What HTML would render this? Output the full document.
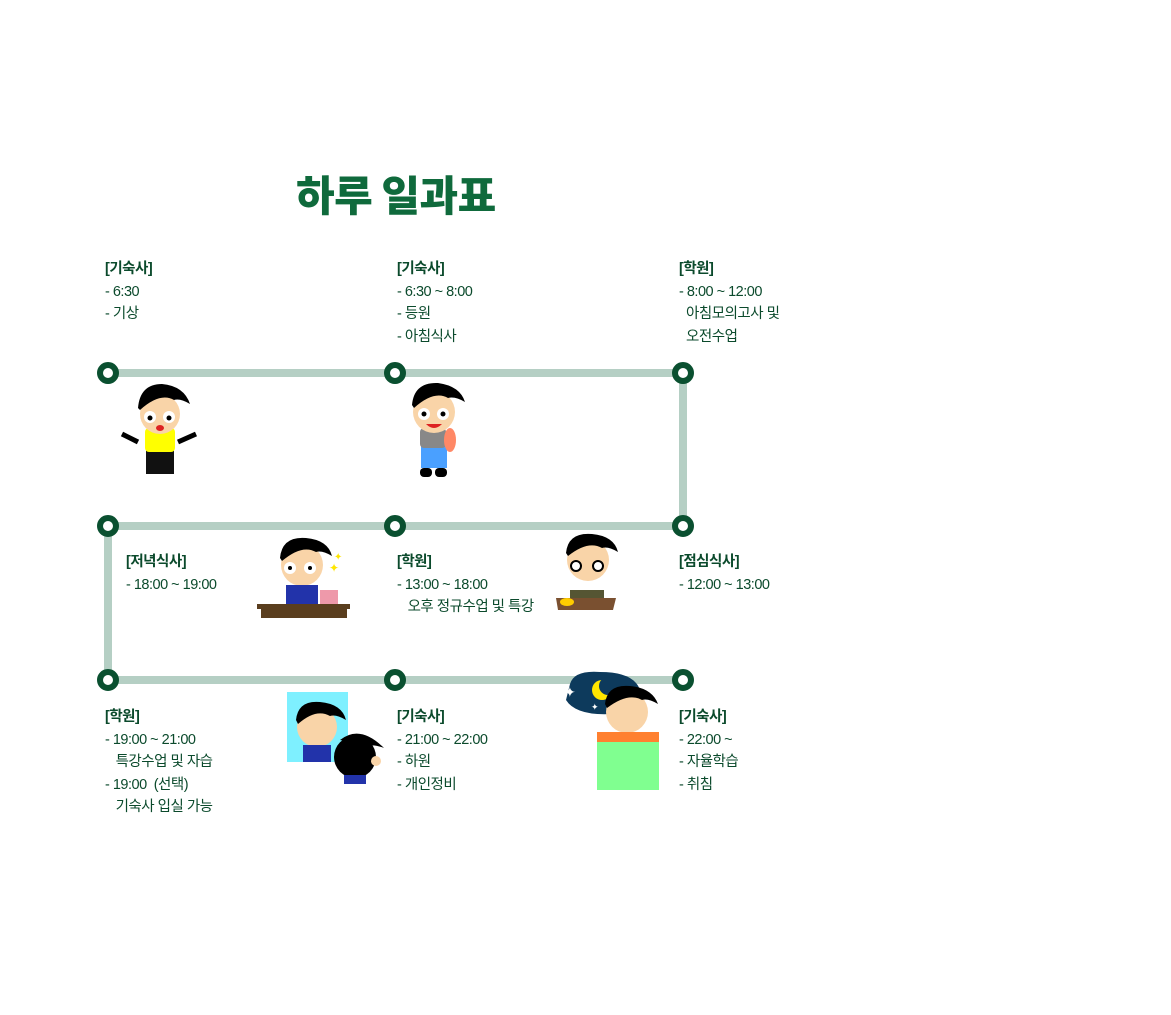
<!DOCTYPE html>
<html><head><meta charset="utf-8"><style>
body{margin:0;width:1171px;height:1015px;background:#fff;position:relative;overflow:hidden;font-family:"Liberation Sans","Noto Sans CJK KR",sans-serif;}
.t{position:absolute;color:#0b4a2c;font-size:14.5px;line-height:22.5px;letter-spacing:-0.5px;white-space:pre;}
.t b{font-weight:700;}
h1{position:absolute;left:296px;top:163px;margin:0;font-size:42px;font-weight:900;color:#0f6a3c;letter-spacing:-0.5px;font-family:"Noto Sans CJK KR",sans-serif;white-space:nowrap;}
svg{position:absolute;left:0;top:0;}
</style></head><body>
<h1>하루 일과표</h1>
<svg width="1171" height="1015">
<g stroke="#b5cfc4" stroke-width="8" fill="none">
<path d="M108 373H683V526H108V680H683"/>
</g>
<g fill="#fff" stroke="#0a5030" stroke-width="6">
<circle cx="108" cy="373" r="8"/><circle cx="395" cy="373" r="8"/><circle cx="683" cy="373" r="8"/>
<circle cx="108" cy="526" r="8"/><circle cx="395" cy="526" r="8"/><circle cx="683" cy="526" r="8"/>
<circle cx="108" cy="680" r="8"/><circle cx="395" cy="680" r="8"/><circle cx="683" cy="680" r="8"/>
</g>
<g>
<rect x="146" y="448" width="28" height="26" fill="#111"/>
<rect x="145" y="428" width="30" height="24" rx="4" fill="#ffff00"/>
<path d="M122 434L138 442M178 442L196 434" stroke="#000" stroke-width="5"/>
<circle cx="160" cy="414" r="20" fill="#f9d4a8"/>
<path d="M138 408Q140 384 162 384Q184 386 190 404Q180 398 174 400Q160 392 140 410Z" fill="#000"/>
<circle cx="150" cy="417" r="6" fill="#fff"/><circle cx="169" cy="417" r="6" fill="#fff"/>
<circle cx="150" cy="418" r="2.5"/><circle cx="169" cy="418" r="2.5"/>
<ellipse cx="160" cy="428" rx="4" ry="3" fill="#d22"/>
</g>
<g>
<rect x="421" y="444" width="26" height="24" fill="#4aa0ff"/>
<rect x="420" y="428" width="26" height="20" rx="4" fill="#888"/>
<ellipse cx="450" cy="440" rx="6" ry="12" fill="#f86"/>
<rect x="420" y="468" width="12" height="9" rx="4" fill="#000"/><rect x="435" y="468" width="12" height="9" rx="4" fill="#000"/>
<circle cx="434" cy="412" r="21" fill="#f9d4a8"/>
<path d="M412 405Q414 382 438 383Q460 386 465 402Q455 396 448 398Q434 390 414 408Z" fill="#000"/>
<circle cx="424" cy="414" r="6" fill="#fff"/><circle cx="443" cy="414" r="6" fill="#fff"/>
<circle cx="424" cy="414" r="2.5"/><circle cx="443" cy="414" r="2.5"/>
<path d="M426 424Q434 432 442 424Z" fill="#d22"/>
</g>
<g>
<circle cx="302" cy="565" r="21" fill="#f9d4a8"/>
<path d="M280 558Q282 536 306 538Q328 540 332 556Q322 550 316 552Q302 544 282 561Z" fill="#000"/>
<circle cx="290" cy="568" r="6" fill="#fff"/><circle cx="310" cy="568" r="6" fill="#fff"/>
<circle cx="290" cy="568" r="2"/><circle cx="310" cy="568" r="2"/>
<rect x="286" y="585" width="32" height="20" fill="#2233aa"/>
<rect x="320" y="590" width="18" height="14" fill="#e9a"/>
<rect x="257" y="604" width="93" height="5" fill="#5a3e1e"/><rect x="261" y="609" width="86" height="9" fill="#5a3e1e"/>
<text x="334" y="560" fill="#ffe600" font-size="10">✦</text><text x="329" y="572" fill="#ffe600" font-size="12">✦</text>
</g>
<g>
<circle cx="588" cy="560" r="21" fill="#f9d4a8"/>
<path d="M566 553Q568 532 592 534Q614 536 618 552Q608 546 602 548Q588 540 568 556Z" fill="#000"/>
<circle cx="576" cy="566" r="5" fill="#fff" stroke="#000" stroke-width="2"/><circle cx="598" cy="566" r="5" fill="#fff" stroke="#000" stroke-width="2"/>
<rect x="572" y="582" width="32" height="14" fill="#fff"/>
<rect x="570" y="590" width="34" height="8" fill="#553"/>
<path d="M556 598H616L613 610H558Z" fill="#7a5030"/>
<ellipse cx="567" cy="602" rx="7" ry="4" fill="#fc0"/>
</g>
<g>
<rect x="287" y="692" width="61" height="70" fill="#7ef0ff"/>
<circle cx="317" cy="727" r="20" fill="#f9d4a8"/>
<path d="M296 720Q298 700 320 702Q342 704 346 720Q336 714 330 716Q316 708 298 724Z" fill="#000"/>
<rect x="303" y="745" width="28" height="17" fill="#2233aa"/>
<circle cx="355" cy="757" r="21" fill="#000"/>
<path d="M340 740Q360 724 384 748Q374 744 368 746Z" fill="#000"/>
<rect x="344" y="775" width="22" height="9" fill="#2233aa"/>
<circle cx="376" cy="761" r="5" fill="#f9d4a8"/>
</g>
<g>
<path d="M570 684Q574 670 600 672Q634 672 640 690Q644 712 612 714Q576 716 566 700Z" fill="#0d3a5c"/>
<circle cx="602" cy="690" r="10" fill="#ffe600"/><circle cx="608" cy="686" r="9" fill="#0d3a5c"/>
<text x="564" y="697" fill="#fff" font-size="14">✦</text><text x="591" y="710" fill="#fff" font-size="9">✦</text>
<circle cx="627" cy="712" r="21" fill="#f9d4a8"/>
<path d="M605 704Q607 684 630 686Q652 688 658 704Q648 698 642 700Q628 692 607 708Z" fill="#000"/>
<rect x="597" y="732" width="62" height="10" fill="#ff8030"/>
<rect x="597" y="742" width="62" height="48" fill="#80ff90"/>
</g>
</svg>
<div class="t" style="left:105px;top:258px"><b>[기숙사]</b>
- 6:30
- 기상</div>
<div class="t" style="left:397px;top:258px"><b>[기숙사]</b>
- 6:30 ~ 8:00
- 등원
- 아침식사</div>
<div class="t" style="left:679px;top:258px"><b>[학원]</b>
- 8:00 ~ 12:00
  아침모의고사 및
  오전수업</div>
<div class="t" style="left:126px;top:551px"><b>[저녁식사]</b>
- 18:00 ~ 19:00</div>
<div class="t" style="left:397px;top:551px"><b>[학원]</b>
- 13:00 ~ 18:00
   오후 정규수업 및 특강</div>
<div class="t" style="left:679px;top:551px"><b>[점심식사]</b>
- 12:00 ~ 13:00</div>
<div class="t" style="left:105px;top:706px"><b>[학원]</b>
- 19:00 ~ 21:00
   특강수업 및 자습
- 19:00  (선택)
   기숙사 입실 가능</div>
<div class="t" style="left:397px;top:706px"><b>[기숙사]</b>
- 21:00 ~ 22:00
- 하원
- 개인정비</div>
<div class="t" style="left:679px;top:706px"><b>[기숙사]</b>
- 22:00 ~
- 자율학습
- 취침</div>
</body></html>
